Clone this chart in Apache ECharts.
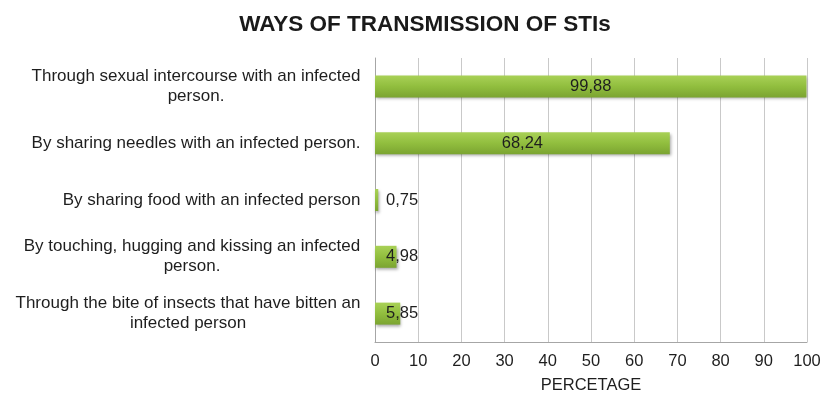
<!DOCTYPE html>
<html>
<head>
<meta charset="utf-8">
<script src="https://cdn.jsdelivr.net/npm/echarts@6/dist/echarts.min.js"></script>
<style>
  html, body { margin: 0; padding: 0; background: #fff; }
  #chart { width: 824px; height: 394px; }
</style>
</head>
<body>
<div id="chart"></div>
<script>
// Survey answers: ways of transmission of STIs (percent of respondents)
const categories = [
  'Through sexual intercourse with an infected\nperson.',
  'By sharing needles with an infected person.',
  'By sharing food with an infected person',
  'By touching, hugging and kissing an infected\nperson.',
  'Through the bite of insects that have bitten an\ninfected person'
];
const percentages = [99.88, 68.24, 0.75, 4.98, 5.85];
const xTicks = { min: 0, max: 100, interval: 10 };

const FONT = '"Liberation Sans", Arial, sans-serif';
const LABEL_SIZE = 17;

// Width of the widest line of each category label, so every line can be centred in its block
const ctx = document.createElement('canvas').getContext('2d');
ctx.font = LABEL_SIZE + 'px ' + FONT;
const rich = {};
categories.forEach((c, i) => {
  const w = Math.max(...c.split('\n').map(l => ctx.measureText(l).width));
  rich['c' + i] = { width: Math.ceil(w) + 1, align: 'center', fontSize: LABEL_SIZE, fontFamily: FONT, color: '#1e1e1e', lineHeight: 20 };
});

const fmt = v => v.toFixed(2).replace('.', ',');

const barData = percentages.map(v => {
  const item = { value: v };
  if (v < 10) {
    item.label = { position: 'insideLeft', distance: 11 };
  }
  return item;
});

const chart = echarts.init(document.getElementById('chart'), null, { renderer: 'canvas' });
chart.setOption({
  animation: false,
  backgroundColor: '#ffffff',
  title: {
    text: 'WAYS OF TRANSMISSION OF STIs',
    left: 420,
    textAlign: 'center',
    top: 8,
    textStyle: { fontFamily: FONT, fontSize: 22.5, fontWeight: 'bold', color: '#1a1a1a' }
  },
  grid: { left: 375, right: 17, top: 58, bottom: 52, containLabel: false, outerBoundsMode: 'none' },
  xAxis: {
    type: 'value',
    min: xTicks.min,
    max: xTicks.max,
    interval: xTicks.interval,
    name: 'PERCETAGE',
    nameLocation: 'middle',
    nameGap: 35,
    nameTextStyle: { fontFamily: FONT, fontSize: 16.5, color: '#1e1e1e' },
    axisLine: { show: true, lineStyle: { color: '#a6a6a6', width: 1 } },
    axisTick: { show: false },
    axisLabel: { margin: 11, fontFamily: FONT, fontSize: 16.5, color: '#1e1e1e' },
    splitLine: { show: true, lineStyle: { color: '#c9c9c9', width: 1 } }
  },
  yAxis: {
    type: 'category',
    data: categories,
    inverse: true,
    axisLine: { show: true, lineStyle: { color: '#a6a6a6', width: 1 } },
    axisTick: { show: false },
    axisLabel: {
      margin: 14,
      align: 'right',
      formatter: (val, idx) => val.split('\n').map(l => '{c' + idx + '|' + l + '}').join('\n'),
      rich: rich
    },
    splitLine: { show: false }
  },
  series: [{
    type: 'bar',
    data: barData,
    barWidth: 22,
    itemStyle: {
      color: new echarts.graphic.LinearGradient(0, 0, 0, 1, [
        { offset: 0, color: '#a9d157' },
        { offset: 0.5, color: '#91be3e' },
        { offset: 1, color: '#7ba431' }
      ]),
      shadowColor: 'rgba(0,0,0,0.35)',
      shadowBlur: 3,
      shadowOffsetX: 1,
      shadowOffsetY: 2
    },
    label: {
      show: true,
      position: 'inside',
      formatter: p => fmt(p.value),
      fontFamily: FONT,
      fontSize: 16.5,
      color: '#1e1e1e'
    }
  }]
});
</script>
</body>
</html>
